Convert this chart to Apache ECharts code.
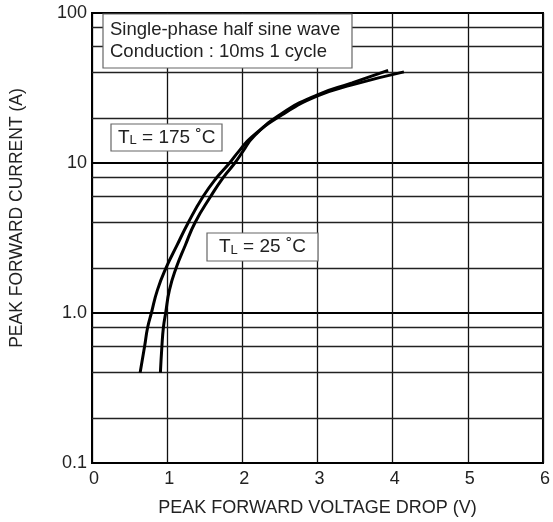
<!DOCTYPE html>
<html><head><meta charset="utf-8">
<script src="https://cdn.jsdelivr.net/npm/echarts@6/dist/echarts.min.js"></script>
<style>html,body{margin:0;padding:0;background:#fff}#c{width:553px;height:522px}</style>
</head><body><div id="c"></div>
<script>
// Data
const v25 = [0.91, 0.93, 0.95, 0.98, 1.03, 1.12, 1.24, 1.37, 1.58, 1.745, 1.90, 2.01, 2.15, 2.53, 3.00, 3.46, 3.94];
const i25 = [0.4, 0.6, 0.8, 1.0, 1.42, 2.0, 2.82, 4.0, 6.0, 8.0, 10.0, 12.0, 15.0, 21.5, 28.5, 34.2, 41.5];
const v175 = [0.64, 0.70, 0.74, 0.79, 0.87, 0.985, 1.13, 1.28, 1.48, 1.66, 1.83, 1.955, 2.13, 2.53, 3.00, 3.46, 4.15];
const i175 = [0.4, 0.6, 0.8, 1.0, 1.42, 2.0, 2.82, 4.0, 6.0, 8.0, 10.0, 12.0, 15.0, 21.0, 28.0, 33.2, 40.5];
const xTicks = [0, 1, 2, 3, 4, 5, 6];
const yTickLabels = {0.1: '0.1', 1: '1.0', 10: '10', 100: '100'};
const minorGrid = [0.2, 0.4, 0.6, 0.8, 2, 4, 6, 8, 20, 40, 60, 80];
const xName = 'PEAK FORWARD VOLTAGE DROP (V)';
const yName = 'PEAK FORWARD CURRENT (A)';
const noteLines = ['Single-phase half sine wave', 'Conduction : 10ms 1 cycle'];

const FONT = '"Liberation Sans", Arial, sans-serif';
const TXT = '#222';
const pair = (xs, ys) => xs.map((x, k) => [x, ys[k]]);

const chart = echarts.init(document.getElementById('c'), null, {renderer: 'canvas'});
const richT = {t: {fontFamily: FONT, fontSize: 19, fill: TXT, verticalAlign: 'bottom'}, s: {fontFamily: FONT, fontSize: 13, fill: TXT, verticalAlign: 'bottom'}};
chart.setOption({
  backgroundColor: '#fff',
  animation: false,
  grid: {left: 92, right: 7, top: 13, bottom: 59, show: true, borderColor: '#000', borderWidth: 2, backgroundColor: 'transparent'},
  xAxis: {
    type: 'value', min: xTicks[0], max: xTicks[xTicks.length - 1], interval: 1,
    name: xName, nameLocation: 'middle', nameGap: 36,
    nameTextStyle: {fontFamily: FONT, fontSize: 18, color: TXT},
    axisLine: {show: true, lineStyle: {color: '#000', width: 2}},
    axisTick: {show: false},
    axisLabel: {fontFamily: FONT, fontSize: 18, color: TXT, margin: 7, padding: [0, 0, 0, 4]},
    splitLine: {show: true, lineStyle: {color: '#111', width: 1.3}}
  },
  yAxis: {
    type: 'log', logBase: 10, min: 0.1, max: 100,
    name: yName, nameLocation: 'middle', nameGap: 66,
    nameTextStyle: {fontFamily: FONT, fontSize: 17.5, color: TXT, padding: [0, 0, 0, 40]},
    axisLine: {show: true, lineStyle: {color: '#000', width: 2}},
    axisTick: {show: false},
    axisLabel: {fontFamily: FONT, fontSize: 18, color: TXT, margin: 5,
      formatter: v => yTickLabels[+v.toPrecision(3)] || ''},
    splitLine: {show: true, lineStyle: {color: '#000', width: 2}}
  },
  series: [
    {name: 'TL = 25 °C', type: 'line', data: pair(v25, i25), smooth: 0.5, showSymbol: false, symbol: 'none',
      lineStyle: {color: '#000', width: 3}, z: 5},
    {name: 'TL = 175 °C', type: 'line', data: pair(v175, i175), smooth: 0.5, showSymbol: false, symbol: 'none',
      lineStyle: {color: '#000', width: 3}, z: 5},
    {name: 'minor', type: 'line', data: [], silent: true,
      markLine: {silent: true, symbol: 'none', label: {show: false}, animation: false,
        lineStyle: {color: '#222', width: 1.3, type: 'solid'},
        data: minorGrid.map(v => ({yAxis: v}))}, z: 1}
  ],
  graphic: [
    {type: 'rect', shape: {x: 103, y: 14, width: 249, height: 54}, style: {fill: '#fff', stroke: '#666', lineWidth: 1.2}, z: 10},
    {type: 'text', x: 110, y: 30, style: {text: noteLines[0], font: '18.5px ' + FONT, fill: TXT, verticalAlign: 'middle'}, z: 11},
    {type: 'text', x: 110, y: 51.5, style: {text: noteLines[1], font: '18.5px ' + FONT, fill: TXT, verticalAlign: 'middle'}, z: 11},
    {type: 'rect', shape: {x: 111, y: 124, width: 111, height: 27}, style: {fill: '#fff', stroke: '#666', lineWidth: 1.2}, z: 10},
    {type: 'text', x: 118, y: 137.5, style: {text: '{t|T}{s|L}{t| = 175 ˚C}', verticalAlign: 'middle', fill: TXT, rich: richT}, z: 11},
    {type: 'rect', shape: {x: 207, y: 233, width: 111, height: 28}, style: {fill: '#fff', stroke: '#666', lineWidth: 1.2}, z: 10},
    {type: 'text', x: 219, y: 247, style: {text: '{t|T}{s|L}{t| = 25 ˚C}', verticalAlign: 'middle', fill: TXT, rich: richT}, z: 11}
  ]
});
</script></body></html>
